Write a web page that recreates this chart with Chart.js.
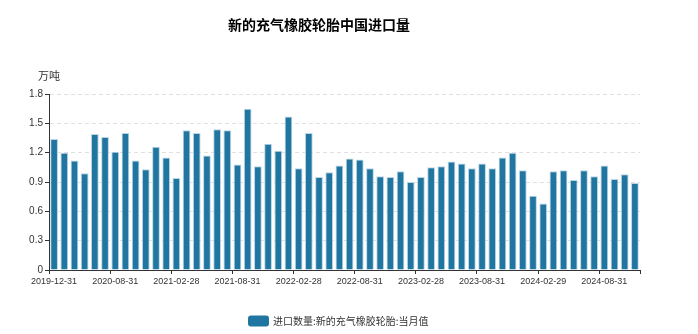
<!DOCTYPE html>
<html>
<head>
<meta charset="utf-8">
<script src="https://cdn.jsdelivr.net/npm/chart.js@4/dist/chart.umd.min.js"></script>
<style>
  html, body { margin: 0; padding: 0; background: #fff; }
  #wrap { width: 698px; height: 334px; position: relative; }
</style>
</head>
<body>
<div id="wrap"><canvas id="c"></canvas></div>
<script>
// 新的充气橡胶轮胎中国进口量 — 月度柱状图

const TITLE      = '新的充气橡胶轮胎中国进口量';
const UNIT       = '万吨';
const SERIES     = '进口数量:新的充气橡胶轮胎:当月值';

// 2020-01/02 合并发布，无单独数据
const dates = [
  '2019-12-31',
  '2020-03-31', '2020-04-30', '2020-05-31', '2020-06-30', '2020-07-31', '2020-08-31',
  '2020-09-30', '2020-10-31', '2020-11-30', '2020-12-31',
  '2021-01-31', '2021-02-28', '2021-03-31', '2021-04-30', '2021-05-31', '2021-06-30',
  '2021-07-31', '2021-08-31', '2021-09-30', '2021-10-31', '2021-11-30', '2021-12-31',
  '2022-01-31', '2022-02-28', '2022-03-31', '2022-04-30', '2022-05-31', '2022-06-30',
  '2022-07-31', '2022-08-31', '2022-09-30', '2022-10-31', '2022-11-30', '2022-12-31',
  '2023-01-31', '2023-02-28', '2023-03-31', '2023-04-30', '2023-05-31', '2023-06-30',
  '2023-07-31', '2023-08-31', '2023-09-30', '2023-10-31', '2023-11-30', '2023-12-31',
  '2024-01-31', '2024-02-29', '2024-03-31', '2024-04-30', '2024-05-31', '2024-06-30',
  '2024-07-31', '2024-08-31', '2024-09-30', '2024-10-31', '2024-11-30'
];

const imports = [
  1.34,
  1.20, 1.12, 0.99, 1.39, 1.36, 1.21,
  1.40, 1.12, 1.03, 1.26,
  1.15, 0.94, 1.43, 1.40, 1.17, 1.44,
  1.43, 1.08, 1.65, 1.06, 1.29, 1.22,
  1.57, 1.04, 1.40, 0.95, 1.00, 1.07,
  1.14, 1.13, 1.04, 0.96, 0.95, 1.01,
  0.90, 0.95, 1.05, 1.06, 1.11, 1.09,
  1.04, 1.09, 1.04, 1.15, 1.20, 1.02,
  0.76, 0.68, 1.01, 1.02, 0.92, 1.02,
  0.96, 1.07, 0.93, 0.98, 0.89
];

const yTicks = [0, 0.3, 0.6, 0.9, 1.2, 1.5, 1.8];
const labelEvery = 6;

const FONT = '"Noto Sans CJK SC", "Noto Sans", sans-serif';
const NUM  = '"Liberation Sans", Arial, sans-serif';
const BAR  = '#2176a1';
const AXIS = '#333';

// ── Title, unit and legend (drawn on canvas) ─────────────────────────────────
const overlay = {
  id: 'overlay',
  afterDraw(chart) {
    const { ctx, scales } = chart;
    ctx.save();
    ctx.fillStyle = '#000';
    ctx.font = 'bold 14px ' + FONT;
    ctx.textAlign = 'center';
    ctx.textBaseline = 'middle';
    ctx.fillText(TITLE, 319, 25);

    ctx.fillStyle = '#333';
    ctx.font = '11px ' + FONT;
    ctx.fillText(UNIT, scales.x.left, 76);

    // legend
    ctx.fillStyle = BAR;
    ctx.beginPath();
    ctx.roundRect(248, 315.5, 21, 11, 3);
    ctx.fill();
    ctx.fillStyle = '#333';
    ctx.font = '10px ' + FONT;
    ctx.textAlign = 'left';
    ctx.fillText(SERIES, 273, 321);
    ctx.restore();
  }
};

new Chart(document.getElementById('c'), {
  type: 'bar',
  data: {
    labels: dates,
    datasets: [{
      label: SERIES,
      data: imports,
      backgroundColor: BAR,
      borderColor: '#b9d6e4',
      borderWidth: 1,
      barPercentage: 0.76,
      categoryPercentage: 1
    }]
  },
  options: {
    responsive: true,
    maintainAspectRatio: false,
    animation: false,
    layout: { padding: { top: 94, right: 58, left: 0, bottom: 34 } },
    plugins: {
      title: { display: false },
      tooltip: { enabled: false },
      legend: { display: false }
    },
    scales: {
      x: {
        offset: true,
        afterFit: s => { s.height = 30; },
        grid: {
          offset: true,
          drawOnChartArea: false,
          drawTicks: true,
          tickLength: 4,
          tickColor: ctx => (ctx.index === undefined || ctx.index % labelEvery === 0) ? AXIS : 'transparent'
        },
        border: { color: AXIS, width: 1 },
        ticks: {
          autoSkip: false,
          maxRotation: 0,
          padding: 2,
          color: '#333',
          font: { family: NUM, size: 9 },
          callback: (v, i) => i % labelEvery === 0 ? dates[i] : ''
        }
      },
      y: {
        min: 0,
        max: 1.8,
        afterFit: s => { s.width = 49; },
        afterBuildTicks: s => { s.ticks = yTicks.map(v => ({ value: v })); },
        grid: {
          color: ctx => ctx.tick && ctx.tick.value === 0 ? 'transparent' : '#e0e0e0',
          tickColor: AXIS,
          tickLength: 4,
          drawTicks: true
        },
        border: { color: AXIS, width: 1, dash: [4, 3] },
        ticks: {
          padding: 2,
          color: '#333',
          font: { family: NUM, size: 10 },
          callback: v => v === 0 ? '0' : v.toFixed(1)
        }
      }
    }
  },
  plugins: [overlay]
});
</script>
</body>
</html>
